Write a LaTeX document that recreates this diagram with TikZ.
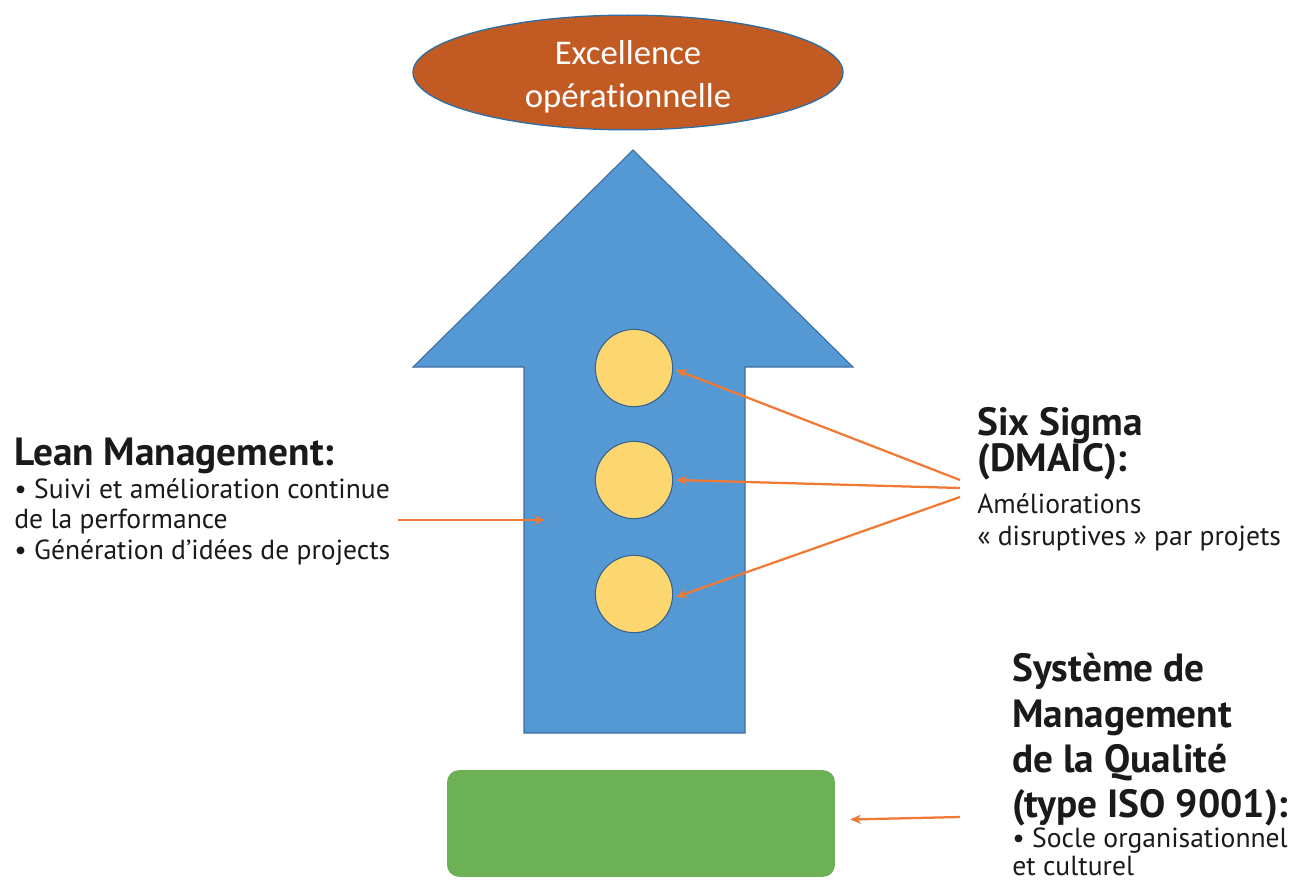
\documentclass[tikz,border=0pt]{standalone}
\usepackage{fontspec}
\setmainfont{PT Sans}
\newfontfamily\calib[Ligatures={NoCommon}]{Carlito}
\usetikzlibrary{shapes.geometric,arrows.meta}
\definecolor{ellfill}{HTML}{C25B23}
\definecolor{ellline}{HTML}{2F6DA3}
\definecolor{arrfill}{HTML}{5599D4}
\definecolor{arrline}{HTML}{3E6E9E}
\definecolor{dotfill}{HTML}{FCD66F}
\definecolor{dotline}{HTML}{35628F}
\definecolor{boxfill}{HTML}{6CB156}
\definecolor{conn}{HTML}{F07A35}
\definecolor{ink}{HTML}{1A1A1A}
\tikzset{
  goal/.style={ellipse, draw=ellline, line width=1pt, fill=ellfill, minimum width=322.5pt, minimum height=86pt, inner sep=0pt},
  goaltext/.style={text=white, align=center, font=\calib\fontsize{26}{32.5}\selectfont},
  bigarrow/.style={draw=arrline, line width=0.8pt, fill=arrfill, line join=miter},
  sigdot/.style={circle, draw=dotline, line width=0.8pt, fill=dotfill, minimum size=58pt, inner sep=0pt},
  basebox/.style={rectangle, rounded corners=9pt, fill=boxfill, minimum width=291pt, minimum height=80pt, inner sep=0pt},
  conn/.style={draw=conn, line width=1.7pt, -{Stealth[length=8pt,width=7pt]}},
  head/.style={anchor=base west, inner sep=0pt, text=ink, font=\bfseries\fontsize{29.5}{29.5}\selectfont},
  body/.style={anchor=base west, inner sep=0pt, text=ink, font=\fontsize{20.7}{20.7}\selectfont},
}
\begin{document}
\begin{tikzpicture}[x=0.75pt,y=-0.75pt]
\useasboundingbox (0,0) rectangle (1293,881);
% goal ellipse
\node[goal] (excel) at (628,72.5) {};
\node[goaltext] (exceltext) at (628,77) {Excellence\\opérationnelle};
% big arrow
\draw[bigarrow] (524,733) -- (524,367) -- (413,367) -- (633,150) -- (853,367) -- (745,367) -- (745,733) -- cycle;
% dots
\node[sigdot] (c1) at (634,368) {};
\node[sigdot] (c2) at (634,480) {};
\node[sigdot] (c3) at (634,594) {};
% base box
\node[basebox] (qms) at (641,823.5) {};
% Lean text
\node[head] (lean0) at (14,465) {Lean Management:};
\node[body] (lean1) at (14,498) {• Suivi et amélioration continue};
\node[body] (lean2) at (14,528) {de la performance};
\node[body] (lean3) at (14,559) {• Génération d’idées de projects};
% Six Sigma text
\node[head] (six0) at (977,435) {Six Sigma};
\node[head] (six1) at (977,471) {(DMAIC):};
\node[body] (six2) at (977,513) {Améliorations};
\node[body] (six3) at (977,545) {«~disruptives~» par projets};
% QMS text
\node[head] (q0) at (1012,681) {Système de};
\node[head] (q1) at (1012,727) {Management};
\node[head] (q2) at (1012,772) {de la Qualité};
\node[head] (q3) at (1012,817) {(type ISO 9001):};
\node[body] (q4) at (1012,847) {• Socle organisationnel};
\node[body] (q5) at (1012,875) {et culturel};
% connectors
\coordinate (leantail) at (398,520);
\coordinate (leanhead) at (545,520);
\draw[conn] (leantail) -- (leanhead);
\coordinate (s1) at (960,480);
\coordinate (s2) at (960,488);
\coordinate (s3) at (960,497);
\draw[conn] (s1) -- ([shift={(3,2)}]c1.east);
\draw[conn] (s2) -- ([shift={(3,0)}]c2.east);
\draw[conn] (s3) -- ([shift={(3,3)}]c3.east);
\coordinate (qtail) at (960,817);
\draw[conn] (qtail) -- ([shift={(15,-4)}]qms.east);
\end{tikzpicture}
\end{document}
